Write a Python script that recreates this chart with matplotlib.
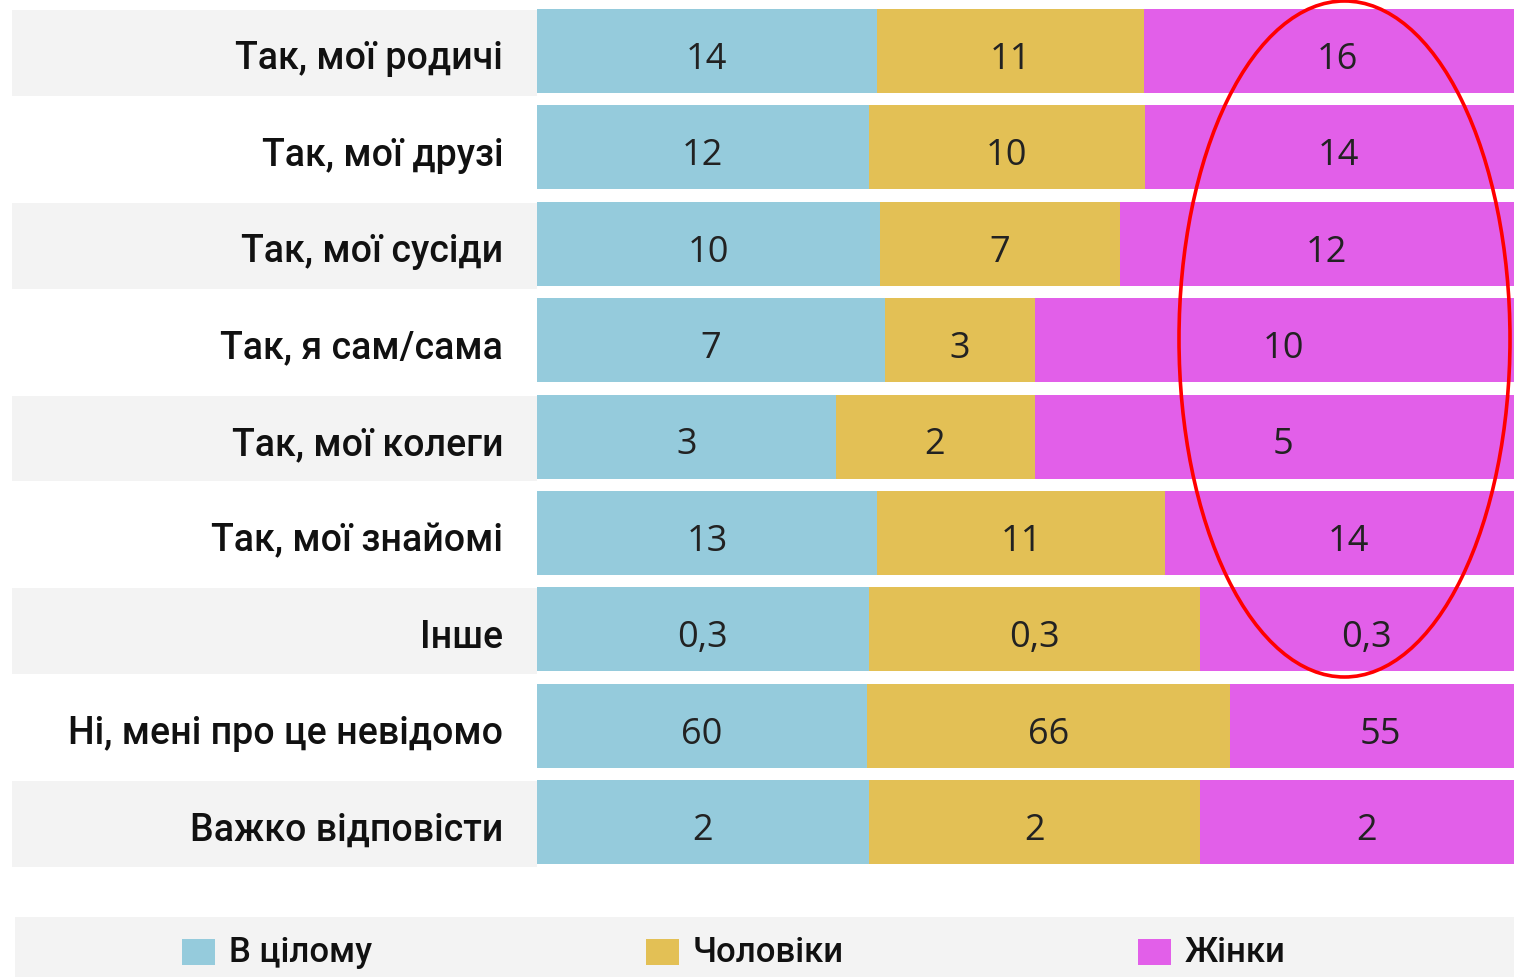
import matplotlib
matplotlib.use("Agg")
import matplotlib.pyplot as plt
from matplotlib import font_manager
from matplotlib.patches import Ellipse, Rectangle
import numpy as np

categories = ["Так, мої родичі", "Так, мої друзі", "Так, мої сусіди", "Так, я сам/сама",
              "Так, мої колеги", "Так, мої знайомі", "Інше", "Ні, мені про це невідомо",
              "Важко відповісти"]
total = [14, 12, 10, 7, 3, 13, 0.3, 60, 2]
men = [11, 10, 7, 3, 2, 11, 0.3, 66, 2]
women = [16, 14, 12, 10, 5, 14, 0.3, 55, 2]
labels_total = ["14", "12", "10", "7", "3", "13", "0,3", "60", "2"]
labels_men = ["11", "10", "7", "3", "2", "11", "0,3", "66", "2"]
labels_women = ["16", "14", "12", "10", "5", "14", "0,3", "55", "2"]
series_names = ["В цілому", "Чоловіки", "Жінки"]

colors = ["#95cbdc", "#e3c055", "#e25fe9"]
band = "#f3f3f3"
txt = "#222222"

fonts = font_manager.fontManager.ttflist
avail = {f.name for f in fonts}
lab_font = "Roboto" if "Roboto" in avail else "DejaVu Sans"
num_font = "Open Sans" if "Open Sans" in avail else "DejaVu Sans"

W, H = 1514, 978
fig = plt.figure(figsize=(W / 100, H / 100), dpi=100)

left_px, right_px = 12, 1514
bar0_px = 537
full_px = 995.0
row_step = 96.4
top_px = 52 - row_step / 2
n = len(categories)
bottom_px = top_px + n * row_step
ax = fig.add_axes([left_px / W, 1 - bottom_px / H, (right_px - left_px) / W, (bottom_px - top_px) / H])
xl = -(bar0_px - left_px) / full_px * 100
xr = xl + (right_px - left_px) / full_px * 100
ax.set_xlim(xl, xr)
ax.set_ylim(n - 0.5, -0.5)
ax.axis("off")

y = np.arange(n)
bh = 0.87
tot = np.array(total) + np.array(men) + np.array(women)
p1 = np.array(total) / tot * 100
p2 = np.array(men) / tot * 100
p3 = np.array(women) / tot * 100

for i in range(0, n, 2):
    ax.barh(i + 0.02, -xl, left=xl, height=bh + 0.02, color=band, linewidth=0)

ax.barh(y, p1, left=0, height=bh, color=colors[0], linewidth=0)
ax.barh(y, p2, left=p1, height=bh, color=colors[1], linewidth=0)
ax.barh(y, p3, left=p1 + p2, height=bh, color=colors[2], linewidth=0)

for i in range(n):
    ax.text(-3.4, i + 0.07, categories[i], ha="right", va="center", fontsize=27,
            family=lab_font, weight="medium", color="#111111")
    ax.text(p1[i] / 2, i + 0.08, labels_total[i], ha="center", va="center", fontsize=26,
            family=num_font, weight="medium", color=txt)
    ax.text(p1[i] + p2[i] / 2, i + 0.08, labels_men[i], ha="center", va="center", fontsize=26,
            family=num_font, weight="medium", color=txt)
    ax.text(p1[i] + p2[i] + p3[i] / 2, i + 0.08, labels_women[i], ha="center", va="center",
            fontsize=26, family=num_font, weight="medium", color=txt)

fig.patches.append(Rectangle((15 / W, 0), (W - 15) / W, 60 / H, transform=fig.transFigure,
                             facecolor=band, edgecolor="none", zorder=0))
leg_sq_x = [182, 646, 1138]
for k in range(3):
    fig.patches.append(Rectangle((leg_sq_x[k] / W, (H - 966) / H), 33 / W, 26 / H,
                                 transform=fig.transFigure, facecolor=colors[k],
                                 edgecolor="none", zorder=1))
    fig.text((leg_sq_x[k] + 47) / W, (H - 953) / H, series_names[k], ha="left", va="center",
             fontsize=25, family=lab_font, weight="medium", color="#111111")

fig.patches.append(Ellipse((1344.5 / W, (H - 340) / H), 331 / W, 676 / H,
                           transform=fig.transFigure, facecolor="none", edgecolor="#ff0000",
                           linewidth=2.6, zorder=10))

fig.savefig("out.png", dpi=100)
